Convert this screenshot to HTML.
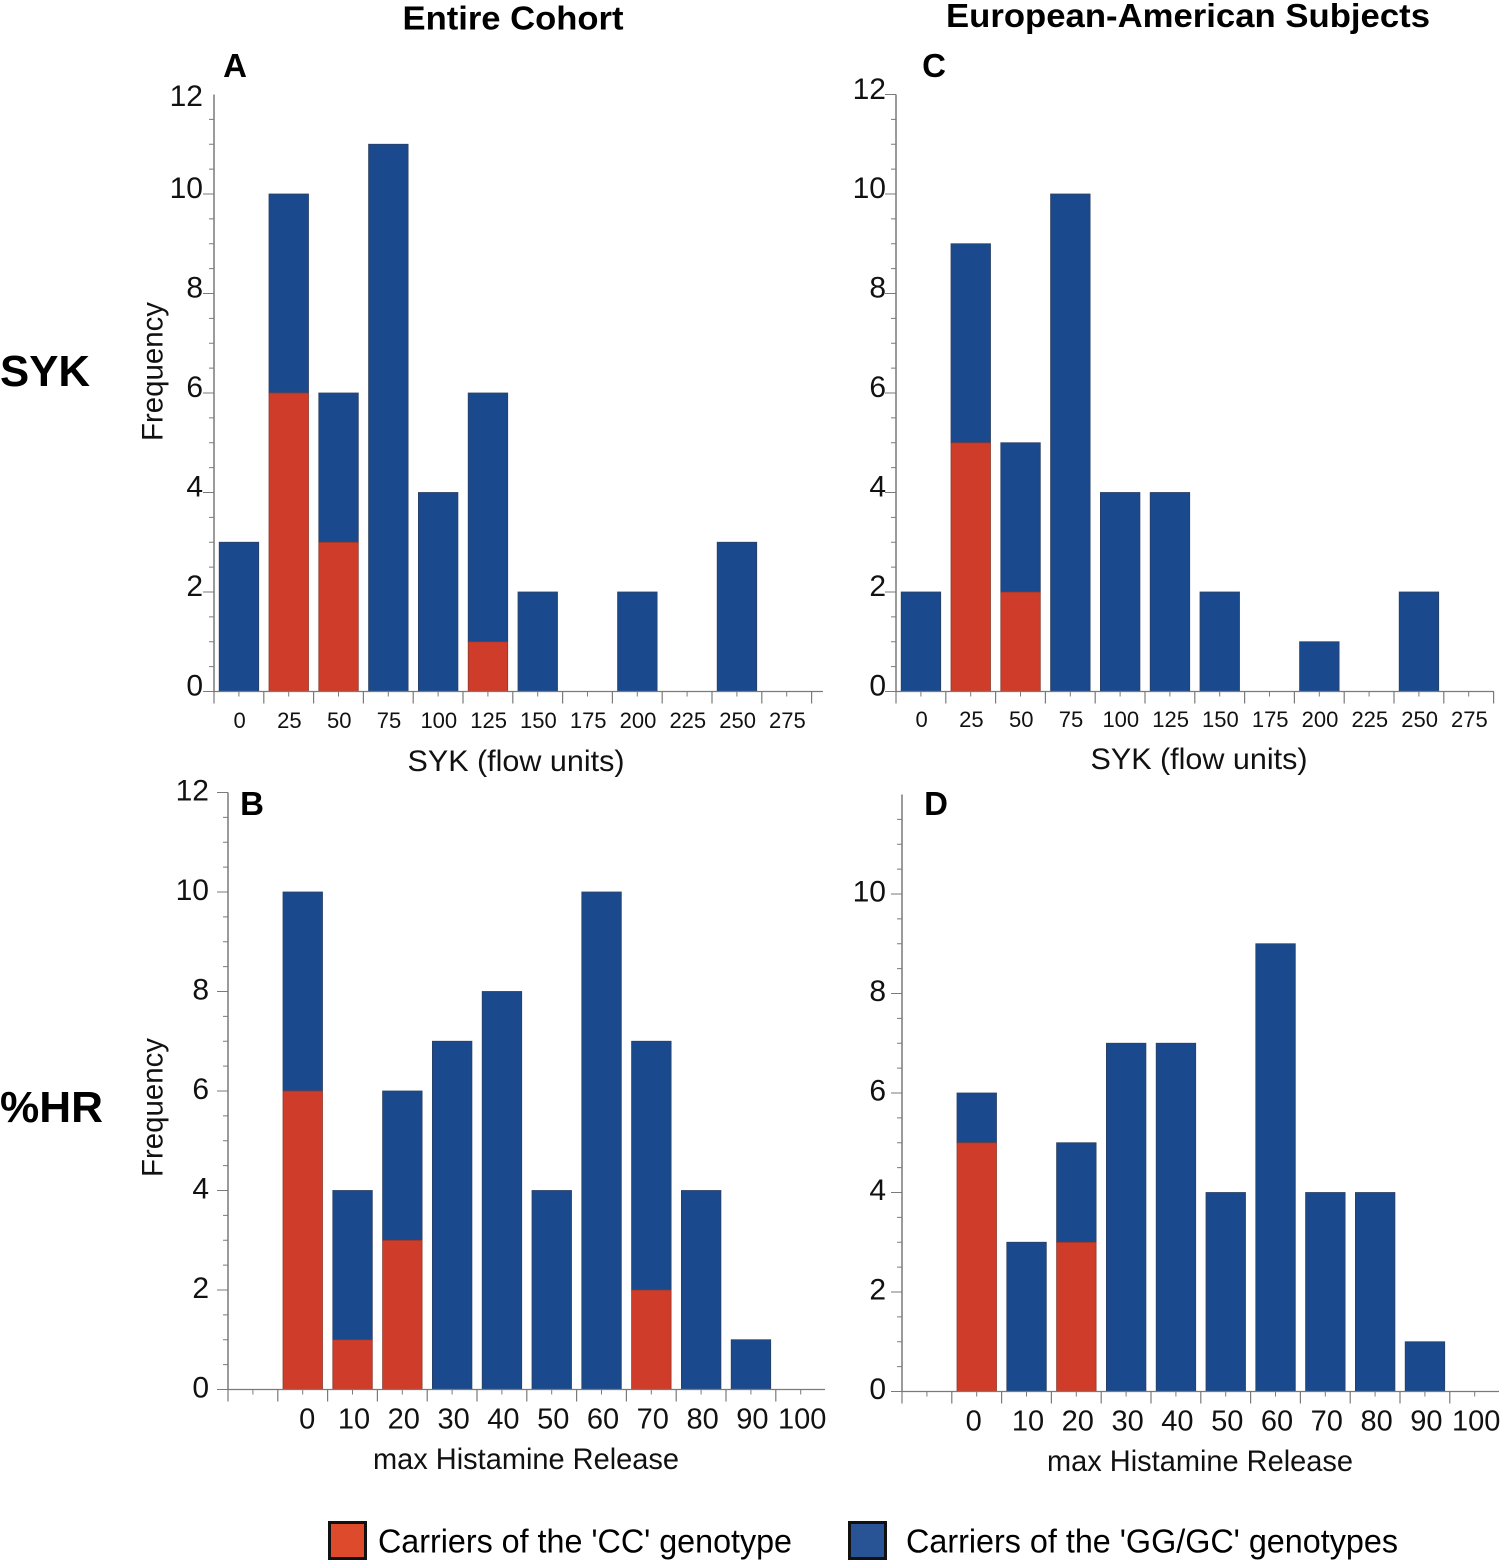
<!DOCTYPE html>
<html lang="en">
<head>
<meta charset="utf-8">
<title>SYK and %HR histograms by genotype</title>
<style>
html,body{margin:0;padding:0;background:#fff;}
svg{display:block;font-family:"Liberation Sans",sans-serif;}
</style>
</head>
<body>
<svg id="figure" xmlns="http://www.w3.org/2000/svg" width="1500" height="1561" viewBox="0 0 1500 1561">
  <text x="513" y="29.5" font-size="33" font-weight="bold" text-anchor="middle" textLength="221" lengthAdjust="spacingAndGlyphs">Entire Cohort</text>
  <text x="1188" y="27" font-size="33" font-weight="bold" text-anchor="middle" textLength="484" lengthAdjust="spacingAndGlyphs">European-American Subjects</text>
  <text x="0" y="386" font-size="44" font-weight="bold" textLength="90" lengthAdjust="spacingAndGlyphs">SYK</text>
  <text x="0" y="1122" font-size="44" font-weight="bold" textLength="103" lengthAdjust="spacingAndGlyphs">%HR</text>

  <g id="panels"></g>

  <g>
    <rect x="329.5" y="1522.5" width="36" height="36" fill="#de4a2c" stroke="#111" stroke-width="3"/>
    <text x="378" y="1552.5" font-size="33" textLength="414" lengthAdjust="spacingAndGlyphs">Carriers of the 'CC' genotype</text>
    <rect x="849.5" y="1522.5" width="36" height="36" fill="#285395" stroke="#111" stroke-width="3"/>
    <text x="906" y="1552.5" font-size="33" textLength="492" lengthAdjust="spacingAndGlyphs">Carriers of the 'GG/GC' genotypes</text>
  </g>
</svg>
<script>
const sykBins = ['0','25','50','75','100','125','150','175','200','225','250','275'];
const hrBins = ['0','10','20','30','40','50','60','70','80','90','100'];

const ccA = [0,6,3,0,0,1,0,0,0,0,0,0];
const ggA = [3,4,3,11,4,5,2,0,2,0,3,0];
const ccC = [0,5,2,0,0,0,0,0,0,0,0,0];
const ggC = [2,4,3,10,4,4,2,0,1,0,2,0];
const ccB = [6,1,3,0,0,0,0,2,0,0,0];
const ggB = [4,3,3,7,8,4,10,5,4,1,0];
const ccD = [5,0,3,0,0,0,0,0,0,0,0];
const ggD = [1,3,2,7,7,4,9,4,4,1,0];

const yTicksFull = [0,2,4,6,8,10,12];
const yTicksNoTop = [0,2,4,6,8,10];

const NS = 'http://www.w3.org/2000/svg';
const BIN = 49.8;
const UNIT = 49.75;
const root = document.getElementById('panels');

function make(parent, tag, attrs, text) {
  const el = document.createElementNS(NS, tag);
  for (const k in attrs) el.setAttribute(k, attrs[k]);
  if (text !== undefined) el.textContent = text;
  parent.appendChild(el);
  return el;
}

function drawPanel(p) {
  const g = make(root, 'g', {});
  
  

  const yScale = v => p.y0 - v * UNIT;
  const xScale = i => p.x0 + (i + p.binOffset) * BIN;

  // bars
  p.bins.forEach((label, i) => {
    const cc = p.cc[i], gg = p.gg[i];
    const left = xScale(i) + 5.2, width = 39.5;
    if (gg > 0) {
      const blue = make(g, 'rect', {x: left, y: yScale(cc + gg), width: width, height: gg * UNIT, fill: '#1a4a8d', stroke: '#2a3f63', 'stroke-width': 0.8});
      
      
    }
    if (cc > 0) {
      const red = make(g, 'rect', {x: left, y: yScale(cc), width: width, height: cc * UNIT, fill: '#cf3d2a', stroke: '#8e3a2e', 'stroke-width': 0.8});
      
      
    }
  });

  // y axis
  const yAxis = make(g, 'g', {stroke: '#7a7a7a', fill: 'none'});
  
  
  make(yAxis, 'line', {x1: p.x0, x2: p.x0, y1: yScale(12), y2: p.y0, 'stroke-width': 1.5});
  for (let v = 0; v <= 12; v += 0.5) {
    const major = Number.isInteger(v / 2);
    if (major && v === 12 && !p.topTick) continue;
    const len = major ? 11 : 5;
    make(yAxis, 'line', {x1: p.x0 - len, x2: p.x0, y1: yScale(v), y2: yScale(v), 'stroke-width': 1});
  }
  p.yTicks.forEach(v => {
    const dy = v === 12 ? p.topLabelDy : p.labelDy;
    const t = make(g, 'text', {x: p.labelRight, y: yScale(v) + dy, 'font-size': 30, 'text-anchor': 'end', fill: '#111'}, String(v));
    
    
  });

  // x axis
  const xAxis = make(g, 'g', {stroke: '#7a7a7a', fill: 'none'});
  
  
  make(xAxis, 'line', {x1: p.x0, x2: p.xEnd, y1: p.y0, y2: p.y0, 'stroke-width': 1.2});
  for (let i = 0; i <= p.majorCount; i++) {
    const x = p.x0 + i * BIN;
    make(xAxis, 'line', {x1: x, x2: x, y1: p.y0, y2: p.y0 + 12, 'stroke-width': 1.2});
    if (i < p.minorCount) {
      make(xAxis, 'line', {x1: x + BIN / 2, x2: x + BIN / 2, y1: p.y0, y2: p.y0 + 5, 'stroke-width': 1});
    }
  }
  p.bins.forEach((label, i) => {
    const shift = p.binOffset ? (i === 0 ? p.zeroShift : 1.5) : 0.7;
    const t = make(g, 'text', {x: xScale(i) + BIN / 2 + shift, y: p.tickBaseline, 'font-size': p.tickSize, 'text-anchor': 'middle', fill: '#111'}, label);
    
    
  });

  // titles and panel letter
  const xt = make(g, 'text', {x: p.titleX, y: p.titleY, 'font-size': 30, 'text-anchor': 'middle', fill: '#111', textLength: p.titleLen, lengthAdjust: 'spacingAndGlyphs'}, p.title);
  
  

  if (p.freqY) {
    const yt = make(g, 'text', {x: 0, y: 0, 'font-size': 30, 'text-anchor': 'middle', fill: '#111', transform: 'translate(162.5 ' + p.freqY + ') rotate(-90)', textLength: 139, lengthAdjust: 'spacingAndGlyphs'}, 'Frequency');
    
    
  }

  const letter = make(g, 'text', {x: p.letterX, y: p.letterY, 'font-size': 33, 'font-weight': 'bold', 'text-anchor': 'middle', fill: '#000'}, p.id);
  
  
}

drawPanel({id: 'A', x0: 214, y0: 691.5, xEnd: 823, binOffset: 0, bins: sykBins, cc: ccA, gg: ggA,
  yTicks: yTicksFull, topTick: false, labelRight: 203, labelDy: 4, topLabelDy: 11.5, majorCount: 12, minorCount: 12,
  tickSize: 22, tickBaseline: 728, zeroShift: 0, title: 'SYK  (flow units)', titleX: 516, titleY: 771, titleLen: 217,
  freqY: 371.5, letterX: 235, letterY: 77});
drawPanel({id: 'C', x0: 896, y0: 691.5, xEnd: 1494, binOffset: 0, bins: sykBins, cc: ccC, gg: ggC,
  yTicks: yTicksFull, topTick: true, labelRight: 886, labelDy: 4, topLabelDy: 4.5, majorCount: 12, minorCount: 12,
  tickSize: 22, tickBaseline: 727, zeroShift: 0, title: 'SYK  (flow units)', titleX: 1199, titleY: 769, titleLen: 217,
  freqY: 0, letterX: 934, letterY: 77});
drawPanel({id: 'B', x0: 228, y0: 1389.5, xEnd: 825, binOffset: 1, bins: hrBins, cc: ccB, gg: ggB,
  yTicks: yTicksFull, topTick: true, labelRight: 209, labelDy: 8, topLabelDy: 8, majorCount: 11, minorCount: 12,
  tickSize: 29, tickBaseline: 1428.5, zeroShift: 4.5, title: 'max Histamine Release', titleX: 526, titleY: 1469, titleLen: 306,
  freqY: 1107.5, letterX: 252, letterY: 815});
drawPanel({id: 'D', x0: 902, y0: 1391.5, xEnd: 1499, binOffset: 1, bins: hrBins, cc: ccD, gg: ggD,
  yTicks: yTicksNoTop, topTick: false, labelRight: 886, labelDy: 7.5, topLabelDy: 8, majorCount: 11, minorCount: 12,
  tickSize: 29, tickBaseline: 1430.5, zeroShift: -3, title: 'max Histamine Release', titleX: 1200, titleY: 1471, titleLen: 306,
  freqY: 0, letterX: 936, letterY: 815});
</script>
</body>
</html>
